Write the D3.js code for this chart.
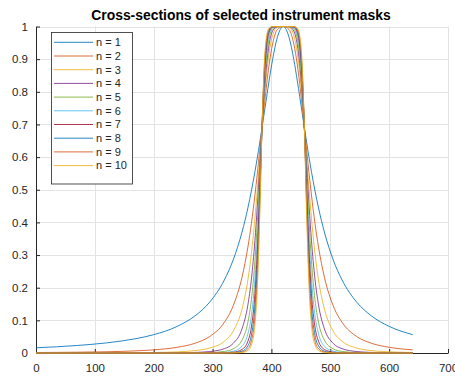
<!DOCTYPE html>
<html>
<head>
<meta charset="utf-8">
<script src="https://cdn.jsdelivr.net/npm/d3@7"></script>
<style>
  body { margin: 0; background: #fff; }
  svg { display: block; }
  text { font-family: "Liberation Sans", Arial, Helvetica, sans-serif; }
</style>
</head>
<body>
<script>
// Sample positions along the cross-section (shared by every mask profile)
const position = [0, 70, 120, 170, 200, 240, 270, 295, 320, 335, 350, 360, 366, 372, 376, 380, 384, 388, 392, 396, 402, 410,
  420,
  430, 438, 444, 448, 452, 456, 460, 464, 468, 474, 480, 490, 505, 520, 545, 570, 600, 640];

// Mask transmission profiles, one per order n
const mask1 = [0.0160, 0.0230, 0.0310, 0.0440, 0.0562, 0.0816, 0.1135, 0.1556, 0.2236, 0.2850, 0.3702, 0.4444, 0.4969, 0.5556, 0.5980, 0.6429, 0.6897, 0.7377, 0.7860, 0.8333, 0.8989, 0.9664,
  1,
  0.9664, 0.8989, 0.8333, 0.7860, 0.7377, 0.6897, 0.6429, 0.5980, 0.5556, 0.4969, 0.4444, 0.3702, 0.2850, 0.2236, 0.1556, 0.1135, 0.0816, 0.0562];
const mask2 = [0.0014, 0.0024, 0.0038, 0.0066, 0.0097, 0.0175, 0.0298, 0.0504, 0.0939, 0.1444, 0.2321, 0.3243, 0.3970, 0.4839, 0.5490, 0.6183, 0.6897, 0.7599, 0.8252, 0.8824, 0.9467, 0.9905,
  1,
  0.9905, 0.9467, 0.8824, 0.8252, 0.7599, 0.6897, 0.6183, 0.5490, 0.4839, 0.3970, 0.3243, 0.2321, 0.1444, 0.0939, 0.0504, 0.0298, 0.0175, 0.0097];
const mask3 = [0.0001, 0.0002, 0.0005, 0.0010, 0.0016, 0.0035, 0.0073, 0.0151, 0.0360, 0.0667, 0.1345, 0.2236, 0.3051, 0.4128, 0.4990, 0.5932, 0.6897, 0.7807, 0.8586, 0.9184, 0.9726, 0.9973,
  1,
  0.9973, 0.9726, 0.9184, 0.8586, 0.7807, 0.6897, 0.5932, 0.4990, 0.4128, 0.3051, 0.2236, 0.1345, 0.0667, 0.0360, 0.0151, 0.0073, 0.0035, 0.0016];
const mask4 = [0, 0, 0, 0.0001, 0.0003, 0.0007, 0.0018, 0.0044, 0.0133, 0.0294, 0.0740, 0.1473, 0.2264, 0.3453, 0.4490, 0.5675, 0.6897, 0.8002, 0.8865, 0.9441, 0.9861, 0.9993,
  1,
  0.9993, 0.9861, 0.9441, 0.8865, 0.8002, 0.6897, 0.5675, 0.4490, 0.3453, 0.2264, 0.1473, 0.0740, 0.0294, 0.0133, 0.0044, 0.0018, 0.0007, 0.0003];
const mask5 = [0, 0, 0, 0, 0, 0.0001, 0.0004, 0.0013, 0.0048, 0.0127, 0.0395, 0.0939, 0.1632, 0.2834, 0.4000, 0.5415, 0.6897, 0.8183, 0.9094, 0.9620, 0.9930, 0.9998,
  1,
  0.9998, 0.9930, 0.9620, 0.9094, 0.8183, 0.6897, 0.5415, 0.4000, 0.2834, 0.1632, 0.0939, 0.0395, 0.0127, 0.0048, 0.0013, 0.0004, 0.0001, 0];
const mask6 = [0, 0, 0, 0, 0, 0, 0.0001, 0.0004, 0.0017, 0.0054, 0.0207, 0.0586, 0.1151, 0.2288, 0.3529, 0.5152, 0.6897, 0.8352, 0.9281, 0.9743, 0.9965, 0.9999,
  1,
  0.9999, 0.9965, 0.9743, 0.9281, 0.8352, 0.6897, 0.5152, 0.3529, 0.2288, 0.1151, 0.0586, 0.0207, 0.0054, 0.0017, 0.0004, 0.0001, 0, 0];
const mask7 = [0, 0, 0, 0, 0, 0, 0, 0.0001, 0.0006, 0.0023, 0.0108, 0.0360, 0.0798, 0.1820, 0.3085, 0.4889, 0.6897, 0.8508, 0.9431, 0.9827, 0.9982, 1,
  1,
  1, 0.9982, 0.9827, 0.9431, 0.8508, 0.6897, 0.4889, 0.3085, 0.1820, 0.0798, 0.0360, 0.0108, 0.0023, 0.0006, 0.0001, 0, 0, 0];
const mask8 = [0, 0, 0, 0, 0, 0, 0, 0, 0.0002, 0.0010, 0.0056, 0.0219, 0.0546, 0.1430, 0.2675, 0.4627, 0.6897, 0.8651, 0.9552, 0.9884, 0.9991, 1,
  1,
  1, 0.9991, 0.9884, 0.9552, 0.8651, 0.6897, 0.4627, 0.2675, 0.1430, 0.0546, 0.0219, 0.0056, 0.0010, 0.0002, 0, 0, 0, 0];
const mask9 = [0, 0, 0, 0, 0, 0, 0, 0, 0.0001, 0.0004, 0.0029, 0.0133, 0.0371, 0.1112, 0.2300, 0.4366, 0.6897, 0.8783, 0.9648, 0.9923, 0.9996, 1,
  1,
  1, 0.9996, 0.9923, 0.9648, 0.8783, 0.6897, 0.4366, 0.2300, 0.1112, 0.0371, 0.0133, 0.0029, 0.0004, 0.0001, 0, 0, 0, 0];
const mask10 = [0, 0, 0, 0, 0, 0, 0, 0, 0, 0.0002, 0.0015, 0.0080, 0.0250, 0.0858, 0.1964, 0.4108, 0.6897, 0.8904, 0.9724, 0.9948, 0.9998, 1,
  1,
  1, 0.9998, 0.9948, 0.9724, 0.8904, 0.6897, 0.4108, 0.1964, 0.0858, 0.0250, 0.0080, 0.0015, 0.0002, 0, 0, 0, 0, 0];

const seriesNames = ["n = 1", "n = 2", "n = 3", "n = 4", "n = 5", "n = 6", "n = 7", "n = 8", "n = 9", "n = 10"];
const seriesColors = ["#0072BD", "#D95319", "#EDB120", "#7E2F8E", "#77AC30", "#4DBEEE", "#A2142F", "#0072BD", "#D95319", "#EDB120"];

const xTicks = [0, 100, 200, 300, 400, 500, 600, 700];
const yTicks = [0, 0.1, 0.2, 0.3, 0.4, 0.5, 0.6, 0.7, 0.8, 0.9, 1];
const yTickLabels = ["0", "0.1", "0.2", "0.3", "0.4", "0.5", "0.6", "0.7", "0.8", "0.9", "1"];
const titleText = "Cross-sections of selected instrument masks";

const masks = [mask1, mask2, mask3, mask4, mask5, mask6, mask7, mask8, mask9, mask10];

const W = 455, H = 376;
const plot = { left: 36, right: 448, top: 26.5, bottom: 353 };

const svg = d3.select("body").append("svg").attr("width", W).attr("height", H);
svg.append("rect").attr("width", W).attr("height", H).attr("fill", "#fff");

const x = d3.scaleLinear().domain([0, 700]).range([plot.left, plot.right]);
const y = d3.scaleLinear().domain([0, 1]).range([plot.bottom, plot.top]);

// grid
const grid = svg.append("g").attr("stroke", "#e3e3e3").attr("stroke-width", 1);
grid.selectAll("line.gx").data(xTicks.slice(1)).join("line")
  .attr("x1", d => Math.round(x(d)) + 0.5).attr("x2", d => Math.round(x(d)) + 0.5)
  .attr("y1", plot.top).attr("y2", plot.bottom);
grid.selectAll("line.gy").data(yTicks.slice(1)).join("line")
  .attr("y1", d => Math.round(y(d)) + 0.5).attr("y2", d => Math.round(y(d)) + 0.5)
  .attr("x1", plot.left).attr("x2", plot.right);

// axes (ticks point inward)
const xAxis = d3.axisBottom(x).tickValues(xTicks).tickSizeInner(-4).tickSizeOuter(0).tickPadding(8);
const yAxis = d3.axisLeft(y).tickValues(yTicks).tickFormat((d, i) => yTickLabels[i]).tickSizeInner(-4).tickSizeOuter(0).tickPadding(8);

const gx = svg.append("g").attr("transform", `translate(0,${plot.bottom})`).call(xAxis);
const gy = svg.append("g").attr("transform", `translate(${plot.left},0)`).call(yAxis);
[gx, gy].forEach(g => {
  g.select(".domain").attr("stroke", "#262626");
  g.selectAll(".tick line").attr("stroke", "#262626");
  g.selectAll(".tick text").attr("fill", "#262626").style("font-size", "11.5px")
    .style("font-family", "'Liberation Sans', Arial, sans-serif");
});
gx.selectAll(".tick text").attr("dy", "0.95em");

// mask profiles
const clip = svg.append("clipPath").attr("id", "plotclip").append("rect")
  .attr("x", plot.left).attr("y", plot.top - 1).attr("width", plot.right - plot.left).attr("height", plot.bottom - plot.top + 2);

const line = d3.line()
  .x((d, i) => x(position[i]))
  .y(d => y(d))
  .curve(d3.curveMonotoneX);

svg.append("g").attr("clip-path", "url(#plotclip)")
  .selectAll("path").data(masks).join("path")
  .attr("d", d => line(d))
  .attr("fill", "none")
  .attr("stroke", (d, i) => seriesColors[i])
  .attr("stroke-width", 1)
  .attr("stroke-opacity", 0.85);

// title
svg.append("text")
  .attr("x", (plot.left + plot.right) / 2 - 1).attr("y", 19.5)
  .attr("text-anchor", "middle")
  .style("font-size", "13.9px").style("font-weight", "bold").attr("fill", "#000")
  .text(titleText);

// legend
const legend = svg.append("g");
legend.append("rect")
  .attr("x", 51.5).attr("y", 32.5).attr("width", 81).attr("height", 151.5)
  .attr("fill", "#fff").attr("stroke", "#262626").attr("stroke-width", 0.8);
const items = legend.selectAll("g.item").data(seriesNames).join("g")
  .attr("transform", (d, i) => `translate(0,${42.3 + i * 13.7})`);
items.append("line")
  .attr("x1", 54).attr("x2", 93).attr("y1", 0).attr("y2", 0)
  .attr("stroke", (d, i) => seriesColors[i]).attr("stroke-width", 1).attr("stroke-opacity", 0.85);
items.append("text")
  .attr("x", 96).attr("y", 0).attr("dy", "0.35em")
  .style("font-size", "11px").attr("fill", "#262626")
  .text(d => d);
</script>
</body>
</html>
